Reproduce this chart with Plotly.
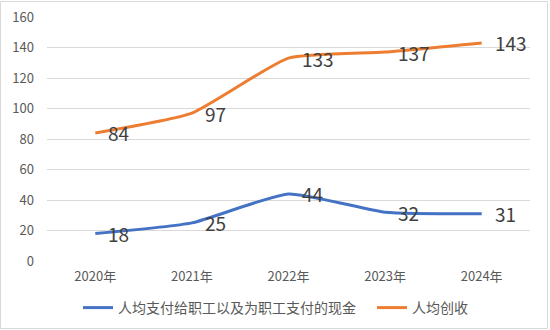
import plotly.graph_objects as go

years = ["2020年", "2021年", "2022年", "2023年", "2024年"]
pay_per_capita = [18, 25, 44, 32, 31]
revenue_per_capita = [84, 97, 133, 137, 143]
y_ticks = [0, 20, 40, 60, 80, 100, 120, 140, 160]

FONT = "Noto Sans CJK SC, DejaVu Sans, sans-serif"
W, H = 550, 330
ML, MR, MT, MB = 47, 20, 17, 69

fig = go.Figure()

series = [
    ("人均支付给职工以及为职工支付的现金", pay_per_capita, "#4472C4", "legend"),
    ("人均创收", revenue_per_capita, "#ED7D31", "legend2"),
]
annotations = []
for name, vals, color, leg in series:
    fig.add_trace(go.Scatter(
        x=years, y=vals, name=name, legend=leg,
        mode="lines",
        line=dict(color=color, width=3, shape="spline", smoothing=0.5),
    ))
    # value labels to the right of each point
    for yr, v in zip(years, vals):
        annotations.append(dict(
            x=yr, y=v, xref="x", yref="y", text=str(v), showarrow=False,
            xanchor="left", yanchor="middle", xshift=11,
            font=dict(family=FONT, size=19, color="#404040"),
        ))

pw = W - ML - MR
ph = H - MT - MB
leg_y = -(308 - (H - MB)) / ph
leg_common = dict(
    orientation="h", xanchor="left", y=leg_y, yanchor="middle",
    font=dict(family=FONT, size=14, color="#595959"),
    itemwidth=30, bgcolor="rgba(0,0,0,0)",
)
fig.update_layout(
    width=W, height=H,
    margin=dict(l=ML, r=MR, t=MT, b=MB, autoexpand=False),
    paper_bgcolor="white", plot_bgcolor="white",
    font=dict(family=FONT, color="#595959", size=13),
    showlegend=True,
    legend=dict(x=(78 - ML) / pw, **leg_common),
    legend2=dict(x=(372 - ML) / pw, **leg_common),
    annotations=annotations,
    xaxis=dict(
        type="category", range=[-0.5, 4.5],
        showgrid=False, showline=False, zeroline=False,
        ticks="", tickfont=dict(size=13, color="#595959"),
        ticklabelstandoff=6,
    ),
    yaxis=dict(
        range=[0, 160], tickvals=y_ticks,
        showgrid=True, gridcolor="#D9D9D9", gridwidth=1,
        zeroline=False, showline=False, ticks="",
        tickfont=dict(size=13, color="#595959"),
        ticklabelstandoff=12,
    ),
    shapes=[dict(
        type="rect", xref="paper", yref="paper",
        x0=(0.5 - ML) / pw, x1=(W - 2.5 - ML) / pw,
        y0=-(MB - 1.5) / ph, y1=1 + (MT - 1.5) / ph,
        line=dict(color="#D9D9D9", width=1), fillcolor="rgba(0,0,0,0)",
        layer="below",
    )],
)

fig.write_html("out.html")
